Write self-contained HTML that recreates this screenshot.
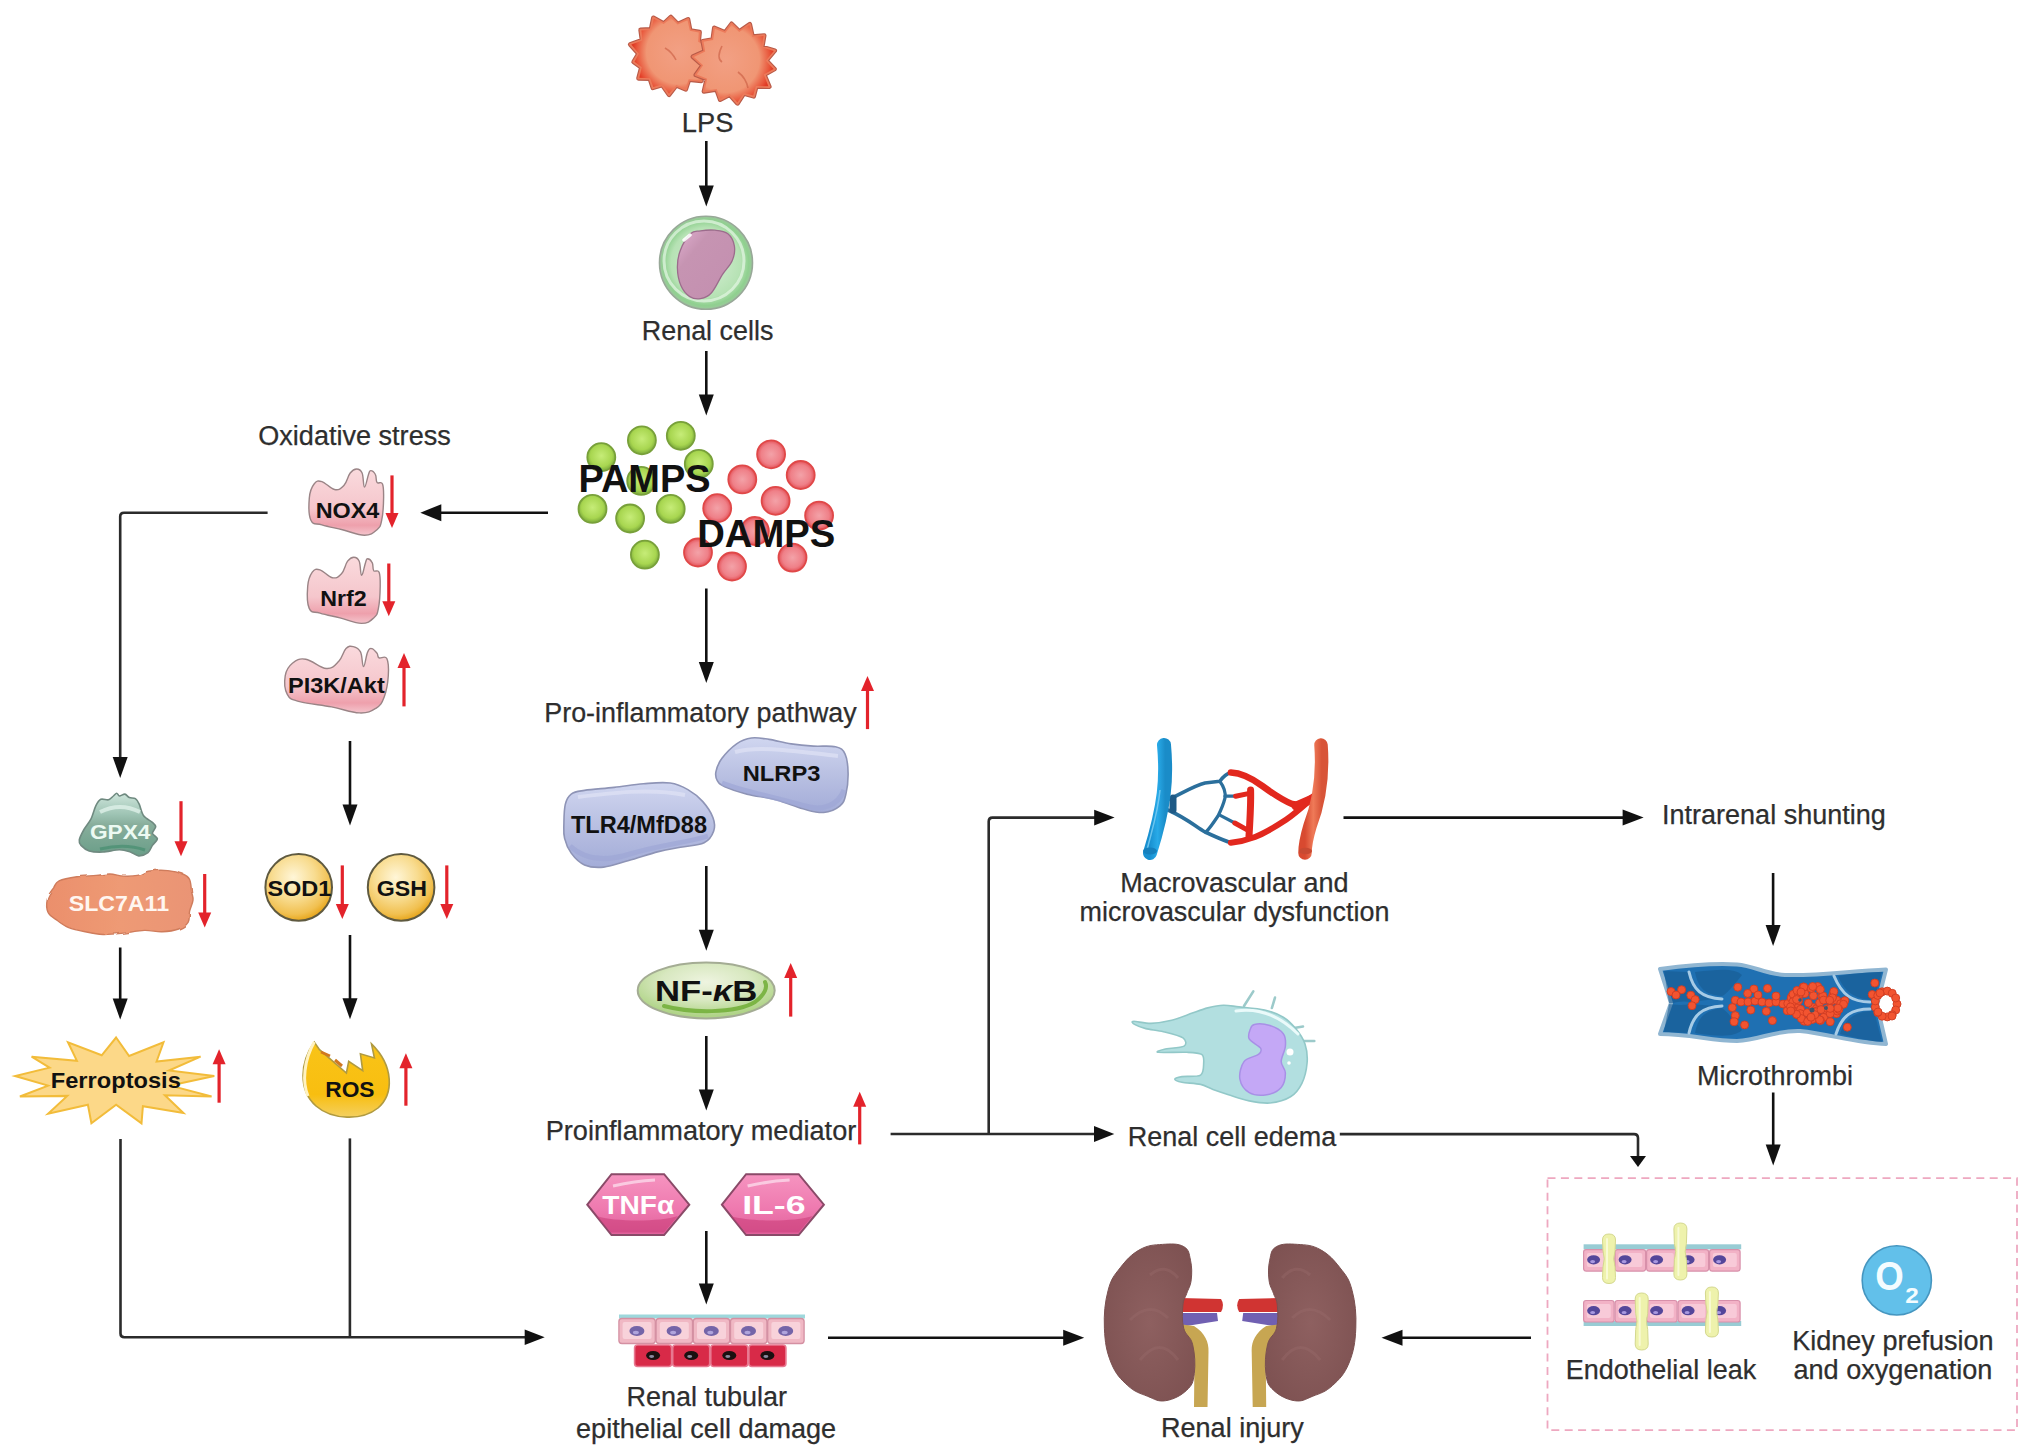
<!DOCTYPE html>
<html><head><meta charset="utf-8"><title>LPS renal injury pathway</title>
<style>html,body{margin:0;padding:0;background:#fff;width:2032px;height:1456px;overflow:hidden}svg{display:block;font-family:"Liberation Sans",sans-serif}</style>
</head><body>
<svg width="2032" height="1456" viewBox="0 0 2032 1456" font-family="Liberation Sans, sans-serif">

<defs>
 <radialGradient id="gG" cx="0.5" cy="0.45" r="0.55"><stop offset="0" stop-color="#c6ec78"/><stop offset="0.7" stop-color="#a8d650"/><stop offset="1" stop-color="#79a83a"/></radialGradient>
 <radialGradient id="gR" cx="0.5" cy="0.5" r="0.55"><stop offset="0" stop-color="#f3a2a8"/><stop offset="0.65" stop-color="#ef8088"/><stop offset="1" stop-color="#e0444a"/></radialGradient>
 <radialGradient id="gLPS" cx="0.5" cy="0.5" r="0.5"><stop offset="0" stop-color="#f2a084"/><stop offset="0.75" stop-color="#f09674"/><stop offset="0.95" stop-color="#ee7a58"/><stop offset="1" stop-color="#e85a3a"/></radialGradient>
 <radialGradient id="gCell" cx="0.5" cy="0.5" r="0.5"><stop offset="0" stop-color="#d8f0d8"/><stop offset="0.75" stop-color="#b6e2b4"/><stop offset="0.92" stop-color="#8fd08f"/><stop offset="1" stop-color="#9cc89c"/></radialGradient>
 <linearGradient id="gNuc" x1="0" y1="0" x2="1" y2="1"><stop offset="0" stop-color="#e0b0d0"/><stop offset="0.3" stop-color="#c694b2"/><stop offset="0.8" stop-color="#c490b0"/><stop offset="1" stop-color="#b0609a"/></linearGradient>
 <linearGradient id="gPink" x1="0" y1="0" x2="0" y2="1"><stop offset="0" stop-color="#fadadd"/><stop offset="0.6" stop-color="#f5c6cc"/><stop offset="0.85" stop-color="#eea0ac"/><stop offset="1" stop-color="#f4c4cc"/></linearGradient>
 <linearGradient id="gTeal" x1="0" y1="0" x2="0" y2="1"><stop offset="0" stop-color="#cfe6dc"/><stop offset="0.35" stop-color="#9cc2b2"/><stop offset="0.5" stop-color="#88ae9c"/><stop offset="1" stop-color="#6a9e88"/></linearGradient>
 <linearGradient id="gOr" x1="0" y1="0" x2="1" y2="0"><stop offset="0" stop-color="#eb8f6c"/><stop offset="0.5" stop-color="#ee9a74"/><stop offset="1" stop-color="#ea9474"/></linearGradient>
 <radialGradient id="gYel" cx="0.42" cy="0.35" r="0.65"><stop offset="0" stop-color="#fff6d8"/><stop offset="0.5" stop-color="#f8dc90"/><stop offset="0.85" stop-color="#f1c050"/><stop offset="1" stop-color="#e8a820"/></radialGradient>
 <linearGradient id="gLav" x1="0" y1="0" x2="0" y2="1"><stop offset="0" stop-color="#d0d6f0"/><stop offset="0.5" stop-color="#b9c0e2"/><stop offset="1" stop-color="#a3acd8"/></linearGradient>
 <radialGradient id="gNF" cx="0.5" cy="0.35" r="0.6"><stop offset="0" stop-color="#eef4e0"/><stop offset="0.55" stop-color="#d8e8c0"/><stop offset="1" stop-color="#b0d488"/></radialGradient>
 <linearGradient id="gHex" x1="0" y1="0" x2="0" y2="1"><stop offset="0" stop-color="#f694c0"/><stop offset="0.6" stop-color="#ee78ae"/><stop offset="1" stop-color="#e0609a"/></linearGradient>
 <radialGradient id="gKid" cx="0.5" cy="0.5" r="0.6"><stop offset="0" stop-color="#8e6060"/><stop offset="1" stop-color="#7e5252"/></radialGradient>
 <linearGradient id="gVein" x1="0" y1="0" x2="1" y2="0"><stop offset="0" stop-color="#1890d0"/><stop offset="0.5" stop-color="#28aae8"/><stop offset="1" stop-color="#1a8cc8"/></linearGradient>
 <linearGradient id="gArt" x1="0" y1="0" x2="1" y2="0"><stop offset="0" stop-color="#d84a30"/><stop offset="0.5" stop-color="#ef7a58"/><stop offset="1" stop-color="#d85438"/></linearGradient>
 <radialGradient id="gEd" cx="0.6" cy="0.45" r="0.6"><stop offset="0" stop-color="#c4e6e6"/><stop offset="1" stop-color="#a8d6d8"/></radialGradient>
 <linearGradient id="gRos" x1="0" y1="0" x2="0" y2="1"><stop offset="0" stop-color="#f9c418"/><stop offset="0.7" stop-color="#f8be10"/><stop offset="1" stop-color="#f4d060"/></linearGradient>
 <filter id="bump" x="-10%" y="-20%" width="120%" height="140%"><feTurbulence type="fractalNoise" baseFrequency="0.09" numOctaves="1" seed="4"/><feDisplacementMap in="SourceGraphic" scale="4"/></filter>
 <radialGradient id="gLPSa" cx="0.62" cy="0.45" r="0.6"><stop offset="0" stop-color="#f2a084"/><stop offset="0.7" stop-color="#f09674"/><stop offset="0.92" stop-color="#e8553a"/><stop offset="1" stop-color="#e03a24"/></radialGradient>
 <radialGradient id="gLPSb" cx="0.4" cy="0.45" r="0.6"><stop offset="0" stop-color="#f2a084"/><stop offset="0.7" stop-color="#f09674"/><stop offset="0.92" stop-color="#e8553a"/><stop offset="1" stop-color="#e03a24"/></radialGradient>
</defs>

<rect width="2032" height="1456" fill="#fff"/>
<line x1="706.3" y1="141.0" x2="706.3" y2="187.5" stroke="#111" stroke-width="2.6"/>
<path d="M698.8,185.5 L713.8,185.5 L706.3,206.5 Z" fill="#111"/>
<line x1="706.3" y1="351.0" x2="706.3" y2="396.5" stroke="#111" stroke-width="2.6"/>
<path d="M698.8,394.5 L713.8,394.5 L706.3,415.5 Z" fill="#111"/>
<line x1="706.3" y1="588.5" x2="706.3" y2="664.0" stroke="#111" stroke-width="2.6"/>
<path d="M698.8,662.0 L713.8,662.0 L706.3,683.0 Z" fill="#111"/>
<line x1="350.0" y1="741.0" x2="350.0" y2="806.5" stroke="#111" stroke-width="2.6"/>
<path d="M342.5,804.5 L357.5,804.5 L350.0,825.5 Z" fill="#111"/>
<line x1="706.3" y1="866.0" x2="706.3" y2="931.7" stroke="#111" stroke-width="2.6"/>
<path d="M698.8,929.7 L713.8,929.7 L706.3,950.7 Z" fill="#111"/>
<line x1="706.3" y1="1036.0" x2="706.3" y2="1091.5" stroke="#111" stroke-width="2.6"/>
<path d="M698.8,1089.5 L713.8,1089.5 L706.3,1110.5 Z" fill="#111"/>
<line x1="706.3" y1="1231.0" x2="706.3" y2="1285.5" stroke="#111" stroke-width="2.6"/>
<path d="M698.8,1283.5 L713.8,1283.5 L706.3,1304.5 Z" fill="#111"/>
<line x1="120.2" y1="947.5" x2="120.2" y2="1000.6" stroke="#111" stroke-width="2.6"/>
<path d="M112.7,998.6 L127.7,998.6 L120.2,1019.6 Z" fill="#111"/>
<line x1="350.0" y1="935.0" x2="350.0" y2="1000.3" stroke="#111" stroke-width="2.6"/>
<path d="M342.5,998.3 L357.5,998.3 L350.0,1019.3 Z" fill="#111"/>
<line x1="1773.1" y1="873.0" x2="1773.1" y2="927.1" stroke="#111" stroke-width="2.6"/>
<path d="M1765.6,925.1 L1780.6,925.1 L1773.1,946.1 Z" fill="#111"/>
<line x1="1773.2" y1="1092.5" x2="1773.2" y2="1146.6" stroke="#111" stroke-width="2.6"/>
<path d="M1765.7,1144.6 L1780.7,1144.6 L1773.2,1165.6 Z" fill="#111"/>
<line x1="548.0" y1="512.7" x2="439.3" y2="512.7" stroke="#111" stroke-width="2.6"/>
<path d="M441.3,504.2 L441.3,521.2 L420.3,512.7 Z" fill="#111"/>
<path d="M267.6,512.7 H124 Q120.2,512.7 120.2,516.5 V760" fill="none" stroke="#2b2b2b" stroke-width="2.6"/>
<path d="M112.7,757 L127.7,757 L120.2,778 Z" fill="#111"/>
<path d="M120.5,1139 V1333.5 Q120.5,1337.2 124.3,1337.2 H526" fill="none" stroke="#2b2b2b" stroke-width="2.6"/>
<path d="M349.9,1138.4 V1337.2" fill="none" stroke="#2b2b2b" stroke-width="2.6"/>
<path d="M524.7,1329.5 L524.7,1345 L544.7,1337.2 Z" fill="#111"/>
<line x1="828.0" y1="1337.7" x2="1065.2" y2="1337.7" stroke="#111" stroke-width="2.6"/>
<path d="M1063.2,1329.7 L1063.2,1345.7 L1084.2,1337.7 Z" fill="#111"/>
<line x1="1531.0" y1="1337.7" x2="1400.5" y2="1337.7" stroke="#111" stroke-width="2.6"/>
<path d="M1402.5,1329.7 L1402.5,1345.7 L1381.5,1337.7 Z" fill="#111"/>
<path d="M890.6,1134 H1096" fill="none" stroke="#2b2b2b" stroke-width="2.6"/>
<path d="M1094,1126 L1094,1142 L1114.3,1134 Z" fill="#111"/>
<path d="M988.7,1134 V821.5 Q988.7,817.6 992.5,817.6 H1096" fill="none" stroke="#2b2b2b" stroke-width="2.6"/>
<path d="M1094.2,809.8 L1094.2,825.5 L1114.6,817.6 Z" fill="#111"/>
<line x1="1343.5" y1="817.6" x2="1624.6" y2="817.6" stroke="#111" stroke-width="2.6"/>
<path d="M1622.6,809.6 L1622.6,825.6 L1643.6,817.6 Z" fill="#111"/>
<path d="M1339.8,1134.1 H1634 Q1638,1134.1 1638,1138 V1158" fill="none" stroke="#2b2b2b" stroke-width="2.6"/>
<path d="M1630,1156 L1646,1156 L1638,1167 Z" fill="#111"/>
<rect x="1547.5" y="1178.2" width="469.5" height="252" fill="none" stroke="#eea8c0" stroke-width="1.8" stroke-dasharray="8,5.4"/>
<line x1="392.0" y1="475.4" x2="392.0" y2="515.0" stroke="#e3232b" stroke-width="3.2"/>
<path d="M385.5,513.0 L398.5,513.0 L392.0,528.0 Z" fill="#e3232b"/>
<line x1="388.8" y1="563.5" x2="388.8" y2="603.3" stroke="#e3232b" stroke-width="3.2"/>
<path d="M382.3,601.3 L395.3,601.3 L388.8,616.3 Z" fill="#e3232b"/>
<line x1="404.0" y1="666.0" x2="404.0" y2="706.4" stroke="#e3232b" stroke-width="3.2"/>
<path d="M397.5,668.0 L410.5,668.0 L404.0,653.0 Z" fill="#e3232b"/>
<line x1="867.5" y1="689.0" x2="867.5" y2="729.1" stroke="#e3232b" stroke-width="3.2"/>
<path d="M861.0,691.0 L874.0,691.0 L867.5,676.0 Z" fill="#e3232b"/>
<line x1="790.7" y1="976.0" x2="790.7" y2="1016.6" stroke="#e3232b" stroke-width="3.2"/>
<path d="M784.2,978.0 L797.2,978.0 L790.7,963.0 Z" fill="#e3232b"/>
<line x1="859.7" y1="1104.8" x2="859.7" y2="1144.4" stroke="#e3232b" stroke-width="3.2"/>
<path d="M853.2,1106.8 L866.2,1106.8 L859.7,1091.8 Z" fill="#e3232b"/>
<line x1="181.0" y1="801.2" x2="181.0" y2="843.2" stroke="#e3232b" stroke-width="3.2"/>
<path d="M174.5,841.2 L187.5,841.2 L181.0,856.2 Z" fill="#e3232b"/>
<line x1="204.7" y1="874.0" x2="204.7" y2="914.6" stroke="#e3232b" stroke-width="3.2"/>
<path d="M198.2,912.6 L211.2,912.6 L204.7,927.6 Z" fill="#e3232b"/>
<line x1="342.3" y1="865.4" x2="342.3" y2="906.0" stroke="#e3232b" stroke-width="3.2"/>
<path d="M335.8,904.0 L348.8,904.0 L342.3,919.0 Z" fill="#e3232b"/>
<line x1="446.8" y1="865.4" x2="446.8" y2="906.0" stroke="#e3232b" stroke-width="3.2"/>
<path d="M440.3,904.0 L453.3,904.0 L446.8,919.0 Z" fill="#e3232b"/>
<line x1="219.1" y1="1062.2" x2="219.1" y2="1102.7" stroke="#e3232b" stroke-width="3.2"/>
<path d="M212.6,1064.2 L225.6,1064.2 L219.1,1049.2 Z" fill="#e3232b"/>
<line x1="405.9" y1="1066.2" x2="405.9" y2="1105.7" stroke="#e3232b" stroke-width="3.2"/>
<path d="M399.4,1068.2 L412.4,1068.2 L405.9,1053.2 Z" fill="#e3232b"/>
<path d="M708.7,46.7 L701.5,55.3 L706.0,63.6 L698.0,68.9 L701.5,80.9 L689.0,79.6 L685.8,89.4 L676.3,85.4 L669.0,94.8 L662.2,85.0 L652.9,87.9 L649.8,78.6 L638.5,78.4 L641.3,67.5 L633.6,61.9 L638.5,53.7 L630.2,44.4 L642.0,40.1 L640.6,29.9 L651.0,29.4 L653.4,17.8 L663.7,23.6 L670.9,17.0 L677.8,24.0 L688.0,19.3 L690.2,30.4 L699.6,32.1 L698.7,41.5 Z" fill="#e84a30" stroke="#b85a48" stroke-width="4.6" stroke-linejoin="round"/>
<path d="M708.7,46.7 L701.5,55.3 L706.0,63.6 L698.0,68.9 L701.5,80.9 L689.0,79.6 L685.8,89.4 L676.3,85.4 L669.0,94.8 L662.2,85.0 L652.9,87.9 L649.8,78.6 L638.5,78.4 L641.3,67.5 L633.6,61.9 L638.5,53.7 L630.2,44.4 L642.0,40.1 L640.6,29.9 L651.0,29.4 L653.4,17.8 L663.7,23.6 L670.9,17.0 L677.8,24.0 L688.0,19.3 L690.2,30.4 L699.6,32.1 L698.7,41.5 Z" fill="#ec6a48" stroke="#ec7a5a" stroke-width="2.4" stroke-linejoin="round"/>
<path d="M707.7,46.9 L701.0,55.3 L705.1,63.4 L697.6,68.6 L700.7,80.2 L688.7,79.2 L685.4,88.5 L676.2,84.9 L669.0,93.8 L662.4,84.5 L653.3,87.1 L650.1,78.3 L639.3,77.8 L641.8,67.3 L634.5,61.7 L639.0,53.7 L631.2,44.6 L642.4,40.4 L641.4,30.5 L651.3,29.8 L653.8,18.7 L663.8,24.1 L670.9,17.9 L677.6,24.5 L687.5,20.2 L689.9,30.7 L698.8,32.6 L698.2,41.7 Z" fill="url(#gLPSa)"/>
<path d="M774.5,69.1 L764.3,74.7 L769.3,86.7 L756.3,86.5 L753.7,96.3 L743.9,93.6 L737.5,103.4 L729.7,94.6 L720.1,99.6 L716.5,89.4 L703.9,91.4 L706.8,79.0 L695.8,74.9 L702.6,65.4 L692.9,56.7 L704.7,51.3 L702.7,41.3 L712.7,39.5 L714.3,27.9 L725.1,32.4 L731.6,23.8 L739.3,31.4 L749.8,24.2 L752.5,36.6 L764.2,35.5 L762.2,47.0 L774.8,50.6 L766.4,60.6 Z" fill="#e84a30" stroke="#b85a48" stroke-width="4.6" stroke-linejoin="round"/>
<path d="M774.5,69.1 L764.3,74.7 L769.3,86.7 L756.3,86.5 L753.7,96.3 L743.9,93.6 L737.5,103.4 L729.7,94.6 L720.1,99.6 L716.5,89.4 L703.9,91.4 L706.8,79.0 L695.8,74.9 L702.6,65.4 L692.9,56.7 L704.7,51.3 L702.7,41.3 L712.7,39.5 L714.3,27.9 L725.1,32.4 L731.6,23.8 L739.3,31.4 L749.8,24.2 L752.5,36.6 L764.2,35.5 L762.2,47.0 L774.8,50.6 L766.4,60.6 Z" fill="#ec6a48" stroke="#ec7a5a" stroke-width="2.4" stroke-linejoin="round"/>
<path d="M773.6,68.9 L763.8,74.5 L768.4,86.2 L755.9,86.1 L753.2,95.5 L743.8,93.1 L737.4,102.4 L729.8,94.1 L720.5,98.7 L716.7,89.0 L704.7,90.7 L707.2,78.7 L696.8,74.6 L703.1,65.3 L693.9,56.9 L705.2,51.5 L703.5,41.8 L713.1,39.9 L714.8,28.8 L725.2,32.9 L731.7,24.8 L739.2,31.9 L749.4,25.1 L752.3,37.0 L763.5,36.1 L761.8,47.3 L773.8,50.9 L765.9,60.7 Z" fill="url(#gLPSb)"/>
<path d="M665,48 Q672,52 676,60 M722,46 Q716,58 722,62 M738,72 Q746,78 748,88" fill="none" stroke="#c85a40" stroke-width="1.6" opacity="0.6"/>
<circle cx="706" cy="262.7" r="46.5" fill="url(#gCell)" stroke="#98a898" stroke-width="1.6"/>
<circle cx="704" cy="261" r="40" fill="none" stroke="#e6f6e6" stroke-width="3" opacity="0.7"/>
<path d="M690.4,233.8 C694.1,230.2 696.0,231.6 700.5,230.9 C705.0,230.2 709.9,229.7 714.9,230.2 C719.9,230.7 724.3,230.9 727.9,233.8 C731.5,236.7 733.6,241.2 734.4,246.1 C735.2,251.0 734.5,255.2 732.3,260.5 C730.1,265.8 726.1,268.9 722.2,274.9 C718.4,280.9 715.3,288.6 711.3,293.0 C707.3,297.4 704.5,298.0 700.5,298.7 C696.5,299.4 693.3,299.0 689.7,296.6 C686.1,294.2 683.3,291.1 681.0,285.8 C678.7,280.5 677.5,274.2 677.4,267.7 C677.3,261.2 677.9,256.6 680.3,250.4 C682.7,244.2 686.7,237.4 690.4,233.8Z" fill="url(#gNuc)" stroke="#9c6c8c" stroke-width="1.3"/>
<path d="M684,240 L690,235" stroke="#fff" stroke-width="3.5" stroke-linecap="round" opacity="0.9"/>
<circle cx="641.9" cy="440.3" r="14" fill="url(#gG)" stroke="#78a03a" stroke-width="1.8"/>
<circle cx="680.8" cy="435.8" r="14" fill="url(#gG)" stroke="#78a03a" stroke-width="1.8"/>
<circle cx="601.3" cy="457.2" r="14" fill="url(#gG)" stroke="#78a03a" stroke-width="1.8"/>
<circle cx="698.8" cy="463.9" r="14" fill="url(#gG)" stroke="#78a03a" stroke-width="1.8"/>
<circle cx="641.2" cy="480.9" r="14" fill="url(#gG)" stroke="#78a03a" stroke-width="1.8"/>
<circle cx="592.5" cy="508.9" r="14" fill="url(#gG)" stroke="#78a03a" stroke-width="1.8"/>
<circle cx="630.1" cy="518.5" r="14" fill="url(#gG)" stroke="#78a03a" stroke-width="1.8"/>
<circle cx="670.7" cy="508.9" r="14" fill="url(#gG)" stroke="#78a03a" stroke-width="1.8"/>
<circle cx="644.9" cy="554.7" r="14" fill="url(#gG)" stroke="#78a03a" stroke-width="1.8"/>
<circle cx="771.1" cy="454.3" r="14" fill="url(#gR)" stroke="#e04848" stroke-width="1.8"/>
<circle cx="742.3" cy="479.4" r="14" fill="url(#gR)" stroke="#e04848" stroke-width="1.8"/>
<circle cx="800.7" cy="475.0" r="14" fill="url(#gR)" stroke="#e04848" stroke-width="1.8"/>
<circle cx="775.6" cy="500.8" r="14" fill="url(#gR)" stroke="#e04848" stroke-width="1.8"/>
<circle cx="717.2" cy="508.2" r="14" fill="url(#gR)" stroke="#e04848" stroke-width="1.8"/>
<circle cx="819.1" cy="515.6" r="14" fill="url(#gR)" stroke="#e04848" stroke-width="1.8"/>
<circle cx="754.9" cy="531.0" r="14" fill="url(#gR)" stroke="#e04848" stroke-width="1.8"/>
<circle cx="698.0" cy="552.5" r="14" fill="url(#gR)" stroke="#e04848" stroke-width="1.8"/>
<circle cx="732.0" cy="566.5" r="14" fill="url(#gR)" stroke="#e04848" stroke-width="1.8"/>
<circle cx="792.5" cy="557.6" r="14" fill="url(#gR)" stroke="#e04848" stroke-width="1.8"/>
<path d="M309.3,498.1 C309.9,490.9 311.5,487.3 314.1,484.0 C316.6,480.7 317.8,480.5 321.9,481.6 C325.9,482.7 330.1,488.7 334.5,489.5 C338.9,490.3 340.8,488.9 343.9,485.6 C347.1,482.2 347.7,476.3 350.2,473.0 C352.8,469.7 354.2,469.0 356.6,469.0 C358.9,469.0 360.5,469.3 362.1,473.0 C363.6,476.6 363.2,486.8 364.5,487.1 C365.8,487.4 367.3,477.8 368.5,474.5 C369.8,471.2 369.3,470.6 370.7,470.6 C372.1,470.6 374.2,472.1 375.4,474.5 C376.7,476.9 375.6,480.5 377.0,482.4 C378.4,484.3 381.2,480.8 382.5,484.0 C383.8,487.1 383.7,490.9 383.6,498.1 C383.5,505.4 383.1,513.9 381.7,520.2 C380.4,526.6 380.4,526.7 377.0,529.7 C373.5,532.7 371.4,535.2 364.4,535.2 C357.5,535.2 350.9,531.8 342.4,529.7 C333.8,527.7 328.2,526.8 321.9,524.9 C315.6,523.0 313.4,525.6 310.9,520.2 C308.3,514.9 308.7,505.4 309.3,498.1Z" fill="url(#gPink)" stroke="#9a8486" stroke-width="1.4"/>
<path d="M307.7,586.3 C308.3,579.1 309.9,575.5 312.3,572.2 C314.8,568.9 316.0,568.7 320.0,569.8 C323.9,570.9 328.0,576.9 332.3,577.7 C336.6,578.5 338.4,577.1 341.5,573.8 C344.6,570.4 345.2,564.5 347.6,561.2 C350.1,557.9 351.5,557.2 353.8,557.2 C356.1,557.2 357.6,557.5 359.2,561.2 C360.7,564.8 360.3,575.0 361.6,575.3 C362.8,575.6 364.3,566.0 365.5,562.7 C366.7,559.4 366.2,558.8 367.6,558.8 C368.9,558.8 371.0,560.3 372.2,562.7 C373.5,565.1 372.4,568.7 373.7,570.6 C375.1,572.5 377.8,569.0 379.1,572.2 C380.4,575.3 380.3,579.1 380.2,586.3 C380.1,593.6 379.7,602.1 378.4,608.4 C377.1,614.8 377.1,614.9 373.7,617.9 C370.4,620.9 368.3,623.4 361.5,623.4 C354.7,623.4 348.3,620.0 340.0,617.9 C331.7,615.9 326.1,615.0 320.0,613.1 C313.8,611.2 311.7,613.8 309.2,608.4 C306.8,603.1 307.1,593.6 307.7,586.3Z" fill="url(#gPink)" stroke="#9a8486" stroke-width="1.4"/>
<path d="M285.2,675.8 C286.2,669.5 288.3,666.5 292.4,663.2 C296.5,659.9 299.0,658.1 305.8,659.2 C312.6,660.3 319.8,668.1 326.4,668.5 C333.0,668.9 334.9,665.2 338.8,661.2 C342.7,657.2 343.1,651.5 346.0,648.6 C348.9,645.7 350.4,645.9 353.2,646.6 C356.1,647.3 358.4,647.9 360.5,651.9 C362.5,655.9 362.1,666.5 363.6,666.5 C365.0,666.5 366.0,655.5 367.7,651.9 C369.3,648.3 369.9,648.3 371.8,648.6 C373.7,648.9 375.5,651.4 377.0,653.2 C378.4,655.1 377.1,656.8 379.0,657.9 C381.0,658.9 384.9,655.0 386.8,658.5 C388.6,662.1 388.8,668.1 388.3,675.8 C387.8,683.5 386.7,690.5 384.2,697.0 C381.7,703.5 380.9,705.1 375.9,708.3 C371.0,711.4 368.3,713.2 359.4,712.9 C350.6,712.6 343.6,709.2 331.6,706.9 C319.6,704.7 308.5,704.1 299.6,701.6 C290.8,699.1 290.1,699.5 287.3,694.3 C284.4,689.2 284.2,682.0 285.2,675.8Z" fill="url(#gPink)" stroke="#9a8486" stroke-width="1.4"/>
<path d="M79.3,840.0 C79.7,837.7 82.0,833.1 83.7,830.0 C85.4,826.9 89.1,822.7 90.9,819.1 C92.7,815.5 94.3,808.9 95.8,805.9 C97.3,802.9 98.9,800.2 100.8,799.3 C102.7,798.4 106.6,800.3 108.5,799.8 C110.4,799.3 112.2,797.0 113.4,796.0 C114.6,795.0 115.8,793.2 116.7,793.2 C117.6,793.2 118.3,795.9 119.5,796.0 C120.7,796.1 123.4,793.9 124.9,794.1 C126.4,794.3 127.7,796.9 129.3,797.6 C130.9,798.3 133.9,797.7 135.4,798.7 C136.9,799.7 138.0,801.6 139.2,804.2 C140.4,806.8 141.6,813.1 143.6,815.8 C145.6,818.5 150.6,820.8 152.4,822.4 C154.2,824.0 155.7,825.1 155.7,826.8 C155.7,828.4 152.1,831.6 152.4,833.4 C152.7,835.2 157.4,837.0 157.4,838.8 C157.4,840.6 153.8,843.3 152.4,845.4 C151.0,847.5 150.1,851.0 148.0,852.6 C145.9,854.2 141.3,856.0 138.7,855.9 C136.1,855.8 133.3,852.9 130.4,852.0 C127.5,851.1 123.6,849.8 119.5,849.8 C115.4,849.8 107.5,851.8 103.0,852.0 C98.5,852.2 92.5,851.9 89.2,850.9 C85.9,849.9 82.5,847.0 81.0,845.4 C79.5,843.8 78.9,842.3 79.3,840.0Z" fill="url(#gTeal)" stroke="#6f8a80" stroke-width="1.6"/>
<path d="M100,812 Q120,802 140,812" fill="none" stroke="#dff0e8" stroke-width="4" opacity="0.8"/>
<path d="M100,849 Q125,843 145,850" fill="none" stroke="#3f8a6a" stroke-width="3" opacity="0.6"/>
<path d="M47.4,898.8 C48.3,894.6 51.6,890.7 53.6,887.8 C55.5,884.8 55.2,882.7 59.1,880.9 C63.0,879.1 70.8,877.7 76.9,876.8 C83.1,875.9 90.7,875.9 96.2,875.4 C101.7,874.9 105.3,873.9 109.9,874.0 C114.5,874.1 119.1,875.9 123.6,876.1 C128.2,876.3 133.3,876.2 137.4,875.4 C141.5,874.6 143.3,872.1 148.4,871.3 C153.4,870.5 161.9,870.1 167.6,870.6 C173.3,871.1 179.1,872.5 182.7,874.0 C186.4,875.5 188.1,876.5 189.6,879.5 C191.1,882.5 191.1,888.5 191.6,891.9 C192.2,895.3 193.4,896.9 193.0,900.1 C192.7,903.3 190.4,907.5 189.6,911.1 C188.8,914.8 190.0,919.1 188.2,922.1 C186.4,925.1 182.9,927.4 178.6,929.0 C174.2,930.6 167.8,931.5 162.1,931.7 C156.4,932.0 150.7,930.1 144.3,930.4 C137.8,930.6 130.5,932.4 123.6,933.1 C116.8,933.8 109.4,934.7 103.0,934.5 C96.6,934.2 90.9,932.9 85.2,931.7 C79.5,930.6 73.3,929.4 68.7,927.6 C64.1,925.8 61.1,923.3 57.7,920.7 C54.3,918.2 49.8,916.2 48.1,912.5 C46.4,908.8 46.5,902.9 47.4,898.8Z" fill="url(#gOr)" stroke="#cf7c5c" stroke-width="1.4" filter="url(#bump)"/>
<circle cx="298.7" cy="887.4" r="33.3" fill="url(#gYel)" stroke="#5f5a40" stroke-width="2"/>
<circle cx="401.1" cy="887.4" r="33.3" fill="url(#gYel)" stroke="#5f5a40" stroke-width="2"/>
<path d="M116.1,1037.5 L129.1,1056.0 L163.5,1042.3 L156.6,1061.5 L200.6,1056.7 L169.0,1070.5 L214.3,1076.0 L170.4,1085.6 L211.6,1096.5 L164.9,1095.2 L183.4,1113.0 L142.9,1106.2 L141.5,1123.3 L116.1,1104.8 L91.4,1123.3 L87.9,1104.8 L48.1,1113.7 L67.3,1095.9 L19.9,1096.5 L48.1,1085.6 L15.1,1076.0 L49.5,1067.7 L31.6,1056.7 L76.9,1060.8 L68.0,1042.3 L101.7,1055.3 Z" fill="#fcd888" stroke="#f2bc3a" stroke-width="2" stroke-linejoin="miter"/>
<path d="M314.3,1042.1 C300,1062 298,1090 316,1106 C332,1120 362,1121 378,1108 C394,1094 394,1066 371.5,1043.9 L374.4,1057.9 L360.4,1053.8 L362.7,1070.7 L348.7,1061.4 L346.4,1073 L319.5,1049.7 Z" fill="url(#gRos)" stroke="#b09a40" stroke-width="1.6"/>
<path d="M314.3,1042.1 C304,1060 302,1082 308,1096" fill="none" stroke="#fff2c0" stroke-width="3"/>
<path d="M321,1052 L330,1056 M335,1060 L342,1066" stroke="#d07820" stroke-width="3"/>
<path d="M715.9,771.9 C716.7,767.8 718.0,763.7 721.8,758.6 C725.6,753.5 731.2,747.7 736.6,743.9 C742.0,740.1 745.4,738.8 751.4,738.0 C757.4,737.2 761.8,738.3 769.1,739.4 C776.4,740.5 783.1,742.7 791.2,743.9 C799.3,745.1 805.3,745.6 813.4,746.1 C821.5,746.6 829.7,745.3 835.5,746.8 C841.3,748.3 842.8,749.3 845.1,754.2 C847.4,759.1 848.0,766.1 848.1,773.4 C848.2,780.7 847.4,788.1 845.9,794.1 C844.4,800.1 844.1,802.5 840.0,805.9 C835.9,809.3 830.5,812.0 823.7,812.5 C816.9,813.0 811.7,811.1 803.0,808.8 C794.3,806.5 786.8,802.7 776.5,800.0 C766.2,797.3 756.4,796.5 746.9,794.1 C737.4,791.7 730.2,789.1 724.8,786.7 C719.4,784.3 719.0,783.5 717.4,780.8 C715.8,778.1 715.1,776.0 715.9,771.9Z" fill="url(#gLav)" stroke="#8e94b6" stroke-width="1.6"/>
<path d="M722,783 C745,792 775,797 805,806 C822,811 838,806 844,790" fill="none" stroke="#9ea6d6" stroke-width="5" opacity="0.7"/>
<path d="M735,752 C760,745 800,752 838,756" fill="none" stroke="#dfe3f5" stroke-width="4" opacity="0.7"/>
<path d="M563.9,823.6 C564.0,817.4 564.0,809.8 565.3,804.4 C566.6,799.0 567.7,796.7 571.2,794.1 C574.7,791.5 576.6,791.6 584.5,790.4 C592.4,789.2 603.3,788.6 614.1,787.4 C624.9,786.2 633.3,784.5 643.6,783.7 C653.9,782.9 662.1,781.9 670.2,783.0 C678.3,784.1 682.0,786.2 687.9,789.6 C693.8,793.0 698.0,796.2 702.6,801.4 C707.2,806.6 711.0,812.3 713.0,817.7 C715.0,823.1 715.3,826.4 713.7,831.0 C712.1,835.6 710.2,839.8 704.1,842.8 C698.0,845.8 688.9,845.6 680.5,847.2 C672.1,848.8 667.9,849.2 658.4,851.6 C648.9,854.0 638.8,857.7 628.8,860.5 C618.8,863.3 611.8,866.3 603.7,867.1 C595.6,867.9 590.5,867.5 584.5,864.9 C578.5,862.3 574.8,858.0 571.2,853.1 C567.6,848.2 565.9,843.8 564.6,838.4 C563.3,833.0 563.8,829.8 563.9,823.6Z" fill="url(#gLav)" stroke="#8e94b6" stroke-width="1.6"/>
<path d="M570,846 C585,860 605,862 630,854 C660,845 690,842 708,836" fill="none" stroke="#9ea6d6" stroke-width="5" opacity="0.7"/>
<path d="M578,797 C610,793 650,788 685,795" fill="none" stroke="#dfe3f5" stroke-width="4" opacity="0.7"/>
<ellipse cx="706.2" cy="990.4" rx="68.5" ry="28" fill="url(#gNF)" stroke="#a4ac94" stroke-width="2"/>
<path d="M664,1006 C690,1013 735,1014 755,1002 C764,995 768,988 765,982" fill="none" stroke="#74b03c" stroke-width="4" stroke-linecap="round" opacity="0.9"/>
<path d="M587.3,1204.7 L611.5,1174.2 L664.1,1174.2 L689.3,1204.7 L664.1,1235.1 L611.5,1235.1 Z" fill="url(#gHex)" stroke="#8a4a68" stroke-width="2"/>
<path d="M596.0,1216 L611.0,1232.5 L664.0,1232.5 L678.0,1216 C660.0,1222 615.0,1222 596.0,1216 Z" fill="#c83a76" opacity="0.55"/>
<path d="M613.0,1186 Q635.0,1181 655.0,1180" fill="none" stroke="#fbd0e4" stroke-width="3" opacity="0.9"/>
<path d="M721.9,1204.7 L746.1,1174.2 L798.7,1174.2 L823.9,1204.7 L798.7,1235.1 L746.1,1235.1 Z" fill="url(#gHex)" stroke="#8a4a68" stroke-width="2"/>
<path d="M730.6,1216 L745.6,1232.5 L798.6,1232.5 L812.6,1216 C794.6,1222 749.6,1222 730.6,1216 Z" fill="#c83a76" opacity="0.55"/>
<path d="M747.6,1186 Q769.6,1181 789.6,1180" fill="none" stroke="#fbd0e4" stroke-width="3" opacity="0.9"/>
<rect x="619" y="1314.5" width="186" height="4" fill="#9ed8dc"/>
<rect x="618.9" y="1318.5" width="36.4" height="25" rx="3" fill="#f0b8c4" stroke="#d490a2" stroke-width="1.3"/>
<rect x="622.6" y="1322" width="29" height="17" rx="2" fill="#f8d2da"/>
<ellipse cx="636.9" cy="1331" rx="7.5" ry="5" fill="#7464a8"/>
<ellipse cx="635.9" cy="1332.5" rx="3" ry="1.8" fill="#b0a4dc"/>
<rect x="656.1" y="1318.5" width="36.4" height="25" rx="3" fill="#f0b8c4" stroke="#d490a2" stroke-width="1.3"/>
<rect x="659.8" y="1322" width="29" height="17" rx="2" fill="#f8d2da"/>
<ellipse cx="674.1" cy="1331" rx="7.5" ry="5" fill="#7464a8"/>
<ellipse cx="673.1" cy="1332.5" rx="3" ry="1.8" fill="#b0a4dc"/>
<rect x="693.3" y="1318.5" width="36.4" height="25" rx="3" fill="#f0b8c4" stroke="#d490a2" stroke-width="1.3"/>
<rect x="697.0" y="1322" width="29" height="17" rx="2" fill="#f8d2da"/>
<ellipse cx="711.3" cy="1331" rx="7.5" ry="5" fill="#7464a8"/>
<ellipse cx="710.3" cy="1332.5" rx="3" ry="1.8" fill="#b0a4dc"/>
<rect x="730.5" y="1318.5" width="36.4" height="25" rx="3" fill="#f0b8c4" stroke="#d490a2" stroke-width="1.3"/>
<rect x="734.2" y="1322" width="29" height="17" rx="2" fill="#f8d2da"/>
<ellipse cx="748.5" cy="1331" rx="7.5" ry="5" fill="#7464a8"/>
<ellipse cx="747.5" cy="1332.5" rx="3" ry="1.8" fill="#b0a4dc"/>
<rect x="767.7" y="1318.5" width="36.4" height="25" rx="3" fill="#f0b8c4" stroke="#d490a2" stroke-width="1.3"/>
<rect x="771.4" y="1322" width="29" height="17" rx="2" fill="#f8d2da"/>
<ellipse cx="785.7" cy="1331" rx="7.5" ry="5" fill="#7464a8"/>
<ellipse cx="784.7" cy="1332.5" rx="3" ry="1.8" fill="#b0a4dc"/>
<rect x="634.6" y="1345" width="37" height="21.5" rx="3" fill="#d82a48" stroke="#e87890" stroke-width="1.6"/>
<ellipse cx="653.1" cy="1355.5" rx="7" ry="4.5" fill="#1a1010"/>
<ellipse cx="651.6" cy="1356.5" rx="2.5" ry="1.4" fill="#8a8aa0"/>
<rect x="672.7" y="1345" width="37" height="21.5" rx="3" fill="#d82a48" stroke="#e87890" stroke-width="1.6"/>
<ellipse cx="691.2" cy="1355.5" rx="7" ry="4.5" fill="#1a1010"/>
<ellipse cx="689.7" cy="1356.5" rx="2.5" ry="1.4" fill="#8a8aa0"/>
<rect x="710.8" y="1345" width="37" height="21.5" rx="3" fill="#d82a48" stroke="#e87890" stroke-width="1.6"/>
<ellipse cx="729.3" cy="1355.5" rx="7" ry="4.5" fill="#1a1010"/>
<ellipse cx="727.8" cy="1356.5" rx="2.5" ry="1.4" fill="#8a8aa0"/>
<rect x="748.9" y="1345" width="37" height="21.5" rx="3" fill="#d82a48" stroke="#e87890" stroke-width="1.6"/>
<ellipse cx="767.4" cy="1355.5" rx="7" ry="4.5" fill="#1a1010"/>
<ellipse cx="765.9" cy="1356.5" rx="2.5" ry="1.4" fill="#8a8aa0"/>
<g fill="none" stroke-linecap="round" stroke-linejoin="round"><path d="M1170,799 C1186,791 1196,785 1205,783 L1219.8,781.3 C1223,777 1226,774 1230.9,772.6" stroke="#2b6f9c" stroke-width="3.6"/><path d="M1168,810 C1188,819 1196,827 1205,832 C1214,836 1222,840 1230.9,842.7" stroke="#2b6f9c" stroke-width="3.6"/><path d="M1219.8,781.3 C1224,787 1226,792 1225,798 C1223,806 1220,812 1218,816 C1214,822 1210,828 1206,832" stroke="#2b6f9c" stroke-width="3.2"/><path d="M1225,796.2 L1236,796.2 M1219.8,815.1 L1234.8,823" stroke="#2b6f9c" stroke-width="3.2"/><path d="M1173,798 L1173,810" stroke="#1e5a86" stroke-width="7"/><path d="M1230.9,772.6 C1240,773 1250,777 1262.4,786 C1272,793 1282,800 1292,804 C1300,806 1306,802 1314,796" stroke="#e2281e" stroke-width="6.5"/><path d="M1230.9,842.7 C1238,842 1247,840 1255,837 C1265,833 1275,827 1286,819.8 C1293,815 1300,809 1308,802" stroke="#e2281e" stroke-width="6"/><path d="M1250.6,789.9 C1251,805 1250,820 1249,836" stroke="#e2281e" stroke-width="7"/><path d="M1235.6,796.2 L1250.6,793.1 M1234.8,823 L1249,830.9" stroke="#e2281e" stroke-width="5"/><path d="M1296,806 L1312,799" stroke="#e2281e" stroke-width="9"/></g>
<path d="M1164,745 C1167,778 1165,805 1150,853" fill="none" stroke="url(#gVein)" stroke-width="14" stroke-linecap="round"/>
<path d="M1160,790 C1158,812 1152,830 1147,850" fill="none" stroke="#7fd0f4" stroke-width="1.5" opacity="0.8"/>
<ellipse cx="1150" cy="851" rx="7" ry="3.5" fill="#1580bd"/>
<path d="M1321,745 C1323,772 1320,800 1310,826 C1307,836 1305,845 1305,853" fill="none" stroke="url(#gArt)" stroke-width="13.5" stroke-linecap="round"/>
<ellipse cx="1305.5" cy="851" rx="6.5" ry="3.2" fill="#c84a32"/>
<path d="M1253.3,991.4 L1244.0,1006.0" stroke="#9ccaca" stroke-width="2.6" stroke-linecap="round"/>
<path d="M1275.0,997.6 L1271.9,1008.0" stroke="#9ccaca" stroke-width="2.6" stroke-linecap="round"/>
<path d="M1303.0,1026.5 L1294.0,1028.0" stroke="#9ccaca" stroke-width="2.6" stroke-linecap="round"/>
<path d="M1314.3,1041.0 L1304.0,1041.0" stroke="#9ccaca" stroke-width="2.6" stroke-linecap="round"/>
<path d="M1133.4,1021.3 C1135.9,1021.1 1145.3,1023.5 1151.0,1023.4 C1156.7,1023.2 1165.5,1021.8 1171.7,1020.3 C1177.9,1018.8 1186.9,1015.0 1192.3,1013.1 C1197.7,1011.2 1203.1,1009.1 1207.8,1007.9 C1212.5,1006.7 1218.6,1005.4 1223.3,1005.3 C1228.0,1005.1 1232.7,1006.2 1238.9,1006.9 C1245.1,1007.6 1258.0,1008.5 1264.7,1010.0 C1271.4,1011.5 1278.6,1014.4 1283.3,1017.2 C1288.0,1020.0 1292.4,1024.6 1295.7,1028.6 C1299.0,1032.6 1303.3,1039.0 1305.0,1044.1 C1306.7,1049.2 1307.6,1056.8 1307.1,1062.7 C1306.6,1068.6 1304.4,1078.2 1301.9,1083.3 C1299.4,1088.4 1295.3,1093.8 1290.5,1096.8 C1285.7,1099.8 1276.1,1102.4 1269.9,1103.0 C1263.7,1103.6 1255.4,1102.1 1249.2,1100.9 C1243.0,1099.7 1233.9,1096.4 1228.5,1094.7 C1223.1,1093.0 1217.2,1091.0 1213.0,1089.5 C1208.8,1088.0 1205.2,1085.5 1200.6,1084.4 C1195.9,1083.3 1185.9,1083.1 1182.0,1082.3 C1178.1,1081.5 1174.8,1080.1 1174.8,1079.2 C1174.8,1078.3 1178.1,1077.2 1182.0,1076.6 C1185.9,1076.0 1197.3,1077.2 1200.6,1075.1 C1203.9,1073.0 1203.5,1065.8 1203.7,1062.7 C1203.9,1059.6 1204.1,1056.0 1201.6,1054.4 C1199.1,1052.8 1193.7,1052.6 1187.2,1052.3 C1180.7,1052.0 1161.6,1052.8 1158.2,1052.3 C1154.8,1051.8 1160.5,1050.1 1164.4,1049.2 C1168.3,1048.3 1181.3,1047.8 1184.1,1046.1 C1186.9,1044.4 1186.1,1040.1 1183.0,1037.9 C1179.9,1035.7 1169.0,1033.1 1163.4,1031.7 C1157.8,1030.3 1150.1,1029.7 1145.8,1028.6 C1141.5,1027.5 1136.4,1025.5 1134.5,1024.4 C1132.6,1023.3 1130.9,1021.4 1133.4,1021.3Z" fill="#b2dfe0" stroke="#92c8c8" stroke-width="1.6"/>
<path d="M1236,1011 Q1270,1006 1298,1034" fill="none" stroke="#eafafa" stroke-width="3" stroke-linecap="round"/>
<path d="M1254.4,1024.4 C1257.7,1023.7 1265.1,1024.0 1269.9,1025.5 C1274.7,1027.0 1280.7,1030.3 1283.3,1033.7 C1285.9,1037.1 1285.8,1041.4 1285.4,1046.1 C1285.1,1050.8 1281.2,1057.1 1281.2,1061.6 C1281.2,1066.1 1285.4,1068.7 1285.4,1073.0 C1285.4,1077.3 1284.3,1083.9 1281.2,1087.5 C1278.1,1091.1 1272.1,1093.9 1266.8,1094.7 C1261.5,1095.5 1253.7,1095.2 1249.2,1092.6 C1244.7,1090.0 1240.8,1084.4 1239.9,1079.2 C1239.0,1074.0 1240.9,1065.7 1244.0,1061.6 C1247.1,1057.5 1255.7,1056.6 1258.5,1054.4 C1261.3,1052.2 1262.1,1050.8 1260.6,1048.2 C1259.0,1045.6 1250.9,1042.0 1249.2,1038.9 C1247.5,1035.8 1249.3,1032.0 1250.2,1029.6 C1251.1,1027.2 1251.1,1025.1 1254.4,1024.4Z" fill="#c4a8f6" stroke="#a890e6" stroke-width="1.5"/>
<circle cx="1290" cy="1052" r="3.5" fill="#fff"/><circle cx="1289" cy="1063" r="1.8" fill="#fff"/>
<path d="M1660,969 C1690,965 1715,963 1737,964.5 C1755,966 1765,974 1785,975 C1820,976 1850,971 1886,969.5 L1877,1005 L1886,1044 C1855,1043 1830,1034 1800,1031 C1775,1030 1760,1040 1737,1041 C1712,1041 1690,1034 1660,1034 L1671,1003 Z" fill="#1f70b2" stroke="#90b6d2" stroke-width="4" stroke-linejoin="round"/>
<g fill="#17598f" opacity="0.55"><path d="M1664,971 L1688,972 C1692,988 1698,996 1716,999 L1690,1002 C1680,1000 1673,1004 1669,1003 Z"/><path d="M1664,1032 L1688,1033 C1692,1017 1698,1009 1716,1006 L1690,1004 C1680,1006 1673,1004 1669,1004 Z"/><path d="M1695,972 C1720,969 1735,968 1742,975 C1730,990 1725,995 1722,996 C1705,995 1698,988 1695,972 Z"/><path d="M1695,1033 C1720,1037 1735,1037 1742,1030 C1730,1015 1725,1010 1722,1008 C1705,1010 1698,1017 1695,1033 Z"/><path d="M1838,976 C1855,973 1870,972 1882,972 L1874,1000 C1858,1000 1845,994 1838,976 Z"/><path d="M1840,1034 C1855,1038 1870,1041 1882,1042 L1874,1011 C1858,1011 1846,1016 1840,1034 Z"/></g>
<path d="M1689,972 C1693,990 1702,998 1722,999 M1689,1033 C1693,1015 1702,1007 1722,1006 M1834,976 C1842,995 1852,1002 1870,1002 M1836,1034 C1842,1015 1852,1009 1870,1009" fill="none" stroke="#a6cbe6" stroke-width="3" stroke-linecap="round"/>
<g fill="#f25430" stroke="#cf3c22" stroke-width="0.9"><circle cx="1671.0" cy="991.5" r="4"/><circle cx="1681.6" cy="989.7" r="4"/><circle cx="1690.8" cy="995.2" r="4"/><circle cx="1695.2" cy="999.6" r="4"/><circle cx="1692.0" cy="1005.7" r="4"/><circle cx="1676.0" cy="995.0" r="4"/><circle cx="1737.8" cy="987.2" r="4"/><circle cx="1753.9" cy="989.0" r="4"/><circle cx="1767.5" cy="988.4" r="4"/><circle cx="1747.7" cy="993.4" r="4"/><circle cx="1735.3" cy="1000.2" r="4"/><circle cx="1732.3" cy="1007.6" r="4"/><circle cx="1750.8" cy="1010.0" r="4"/><circle cx="1766.3" cy="1011.3" r="4"/><circle cx="1735.3" cy="1015.6" r="4"/><circle cx="1734.1" cy="1021.8" r="4"/><circle cx="1744.6" cy="1024.9" r="4"/><circle cx="1772.4" cy="1020.6" r="4"/><circle cx="1741.0" cy="1002.0" r="4"/><circle cx="1748.0" cy="1002.0" r="4"/><circle cx="1755.0" cy="1001.0" r="4"/><circle cx="1762.0" cy="1002.0" r="4"/><circle cx="1769.0" cy="1003.0" r="4"/><circle cx="1776.0" cy="1002.0" r="4"/><circle cx="1783.0" cy="1004.0" r="4"/><circle cx="1758.0" cy="995.0" r="4"/><circle cx="1776.0" cy="996.0" r="4"/><circle cx="1847.3" cy="1027.2" r="4"/><circle cx="1874.8" cy="983.0" r="4"/><circle cx="1872.2" cy="994.5" r="4"/><circle cx="1813.1" cy="1007.5" r="4"/><circle cx="1841.5" cy="1003.6" r="4"/><circle cx="1816.5" cy="1008.7" r="4"/><circle cx="1797.1" cy="1005.5" r="4"/><circle cx="1823.8" cy="1017.3" r="4"/><circle cx="1791.6" cy="996.7" r="4"/><circle cx="1825.2" cy="1009.9" r="4"/><circle cx="1817.7" cy="986.5" r="4"/><circle cx="1797.4" cy="994.2" r="4"/><circle cx="1787.8" cy="1003.5" r="4"/><circle cx="1812.4" cy="1019.4" r="4"/><circle cx="1817.1" cy="1010.9" r="4"/><circle cx="1816.0" cy="1011.8" r="4"/><circle cx="1813.4" cy="995.7" r="4"/><circle cx="1836.4" cy="1013.7" r="4"/><circle cx="1804.9" cy="993.6" r="4"/><circle cx="1803.3" cy="986.9" r="4"/><circle cx="1832.0" cy="1000.8" r="4"/><circle cx="1836.8" cy="1000.2" r="4"/><circle cx="1840.6" cy="1003.7" r="4"/><circle cx="1844.8" cy="1000.7" r="4"/><circle cx="1790.4" cy="1010.4" r="4"/><circle cx="1832.7" cy="995.3" r="4"/><circle cx="1791.2" cy="998.0" r="4"/><circle cx="1793.1" cy="994.3" r="4"/><circle cx="1833.8" cy="991.5" r="4"/><circle cx="1819.6" cy="1002.8" r="4"/><circle cx="1797.4" cy="1014.7" r="4"/><circle cx="1793.9" cy="1011.0" r="4"/><circle cx="1793.0" cy="1001.7" r="4"/><circle cx="1798.8" cy="995.3" r="4"/><circle cx="1804.2" cy="1021.2" r="4"/><circle cx="1798.6" cy="1000.6" r="4"/><circle cx="1837.3" cy="1011.0" r="4"/><circle cx="1798.8" cy="994.8" r="4"/><circle cx="1832.4" cy="997.8" r="4"/><circle cx="1803.8" cy="987.1" r="4"/><circle cx="1791.4" cy="1008.5" r="4"/><circle cx="1800.6" cy="1009.3" r="4"/><circle cx="1808.3" cy="1003.0" r="4"/><circle cx="1843.5" cy="1004.3" r="4"/><circle cx="1820.5" cy="1020.4" r="4"/><circle cx="1797.0" cy="990.5" r="4"/><circle cx="1801.0" cy="992.0" r="4"/><circle cx="1838.9" cy="1009.3" r="4"/><circle cx="1811.3" cy="988.4" r="4"/><circle cx="1800.3" cy="1013.6" r="4"/><circle cx="1801.4" cy="1018.6" r="4"/><circle cx="1821.8" cy="996.3" r="4"/><circle cx="1796.5" cy="1014.3" r="4"/><circle cx="1819.6" cy="1019.8" r="4"/><circle cx="1822.9" cy="995.8" r="4"/><circle cx="1812.7" cy="986.5" r="4"/><circle cx="1796.6" cy="999.5" r="4"/><circle cx="1820.3" cy="989.5" r="4"/><circle cx="1807.7" cy="1021.4" r="4"/><circle cx="1827.5" cy="1008.5" r="4"/><circle cx="1787.3" cy="1010.7" r="4"/><circle cx="1814.9" cy="1014.7" r="4"/><circle cx="1790.5" cy="1006.9" r="4"/><circle cx="1830.2" cy="1021.8" r="4"/><circle cx="1830.2" cy="1013.6" r="4"/><circle cx="1807.1" cy="1012.8" r="4"/><circle cx="1811.0" cy="1017.2" r="4"/><circle cx="1837.8" cy="1008.1" r="4"/><circle cx="1823.5" cy="1000.1" r="4"/><circle cx="1821.0" cy="1009.6" r="4"/><circle cx="1790.8" cy="1010.9" r="4"/><circle cx="1829.7" cy="1000.3" r="4"/><circle cx="1830.1" cy="1008.4" r="4"/><circle cx="1897.0" cy="1004.0" r="4"/><circle cx="1895.7" cy="1010.0" r="4"/><circle cx="1892.2" cy="1014.7" r="4"/><circle cx="1887.3" cy="1016.9" r="4"/><circle cx="1882.1" cy="1016.2" r="4"/><circle cx="1877.8" cy="1012.6" r="4"/><circle cx="1875.3" cy="1007.1" r="4"/><circle cx="1875.3" cy="1000.9" r="4"/><circle cx="1877.8" cy="995.4" r="4"/><circle cx="1882.1" cy="991.8" r="4"/><circle cx="1887.3" cy="991.1" r="4"/><circle cx="1892.2" cy="993.3" r="4"/><circle cx="1895.7" cy="998.0" r="4"/><circle cx="1880.0" cy="993.0" r="4"/><circle cx="1892.0" cy="1016.0" r="4"/><circle cx="1878.0" cy="1012.0" r="4"/></g>
<g fill="#1a5a7a" opacity="0.8"><circle cx="1812" cy="1010" r="2.5"/><circle cx="1826" cy="1008" r="2"/><circle cx="1800" cy="1000" r="1.8"/></g>
<rect x="1583.6" y="1244.3" width="157.6" height="5" fill="#98ccd4"/>
<rect x="1583.6" y="1249.6" width="30.5" height="21.5" rx="2.5" fill="#f2b2c6" stroke="#d890aa" stroke-width="1.2"/>
<rect x="1586.8" y="1253.1" width="24" height="14" rx="2" fill="#f8cad8"/>
<ellipse cx="1593.6" cy="1259.8" rx="6.5" ry="4.6" fill="#54469a"/>
<ellipse cx="1592.6" cy="1261.6" rx="2.5" ry="1.6" fill="#a898e0"/>
<rect x="1615.1" y="1249.6" width="30.5" height="21.5" rx="2.5" fill="#f2b2c6" stroke="#d890aa" stroke-width="1.2"/>
<rect x="1618.3" y="1253.1" width="24" height="14" rx="2" fill="#f8cad8"/>
<ellipse cx="1625.1" cy="1259.8" rx="6.5" ry="4.6" fill="#54469a"/>
<ellipse cx="1624.1" cy="1261.6" rx="2.5" ry="1.6" fill="#a898e0"/>
<rect x="1646.6" y="1249.6" width="30.5" height="21.5" rx="2.5" fill="#f2b2c6" stroke="#d890aa" stroke-width="1.2"/>
<rect x="1649.8" y="1253.1" width="24" height="14" rx="2" fill="#f8cad8"/>
<ellipse cx="1656.6" cy="1259.8" rx="6.5" ry="4.6" fill="#54469a"/>
<ellipse cx="1655.6" cy="1261.6" rx="2.5" ry="1.6" fill="#a898e0"/>
<rect x="1678.1" y="1249.6" width="30.5" height="21.5" rx="2.5" fill="#f2b2c6" stroke="#d890aa" stroke-width="1.2"/>
<rect x="1681.3" y="1253.1" width="24" height="14" rx="2" fill="#f8cad8"/>
<ellipse cx="1688.1" cy="1259.8" rx="6.5" ry="4.6" fill="#54469a"/>
<ellipse cx="1687.1" cy="1261.6" rx="2.5" ry="1.6" fill="#a898e0"/>
<rect x="1709.6" y="1249.6" width="30.5" height="21.5" rx="2.5" fill="#f2b2c6" stroke="#d890aa" stroke-width="1.2"/>
<rect x="1712.8" y="1253.1" width="24" height="14" rx="2" fill="#f8cad8"/>
<ellipse cx="1719.6" cy="1259.8" rx="6.5" ry="4.6" fill="#54469a"/>
<ellipse cx="1718.6" cy="1261.6" rx="2.5" ry="1.6" fill="#a898e0"/>
<rect x="1583.6" y="1321" width="157.6" height="5" fill="#98ccd4"/>
<rect x="1583.6" y="1300.5" width="30.5" height="21.5" rx="2.5" fill="#f2b2c6" stroke="#d890aa" stroke-width="1.2"/>
<rect x="1586.8" y="1304.0" width="24" height="14" rx="2" fill="#f8cad8"/>
<ellipse cx="1593.6" cy="1310.7" rx="6.5" ry="4.6" fill="#54469a"/>
<ellipse cx="1592.6" cy="1312.5" rx="2.5" ry="1.6" fill="#a898e0"/>
<rect x="1615.1" y="1300.5" width="30.5" height="21.5" rx="2.5" fill="#f2b2c6" stroke="#d890aa" stroke-width="1.2"/>
<rect x="1618.3" y="1304.0" width="24" height="14" rx="2" fill="#f8cad8"/>
<ellipse cx="1625.1" cy="1310.7" rx="6.5" ry="4.6" fill="#54469a"/>
<ellipse cx="1624.1" cy="1312.5" rx="2.5" ry="1.6" fill="#a898e0"/>
<rect x="1646.6" y="1300.5" width="30.5" height="21.5" rx="2.5" fill="#f2b2c6" stroke="#d890aa" stroke-width="1.2"/>
<rect x="1649.8" y="1304.0" width="24" height="14" rx="2" fill="#f8cad8"/>
<ellipse cx="1656.6" cy="1310.7" rx="6.5" ry="4.6" fill="#54469a"/>
<ellipse cx="1655.6" cy="1312.5" rx="2.5" ry="1.6" fill="#a898e0"/>
<rect x="1678.1" y="1300.5" width="30.5" height="21.5" rx="2.5" fill="#f2b2c6" stroke="#d890aa" stroke-width="1.2"/>
<rect x="1681.3" y="1304.0" width="24" height="14" rx="2" fill="#f8cad8"/>
<ellipse cx="1688.1" cy="1310.7" rx="6.5" ry="4.6" fill="#54469a"/>
<ellipse cx="1687.1" cy="1312.5" rx="2.5" ry="1.6" fill="#a898e0"/>
<rect x="1709.6" y="1300.5" width="30.5" height="21.5" rx="2.5" fill="#f2b2c6" stroke="#d890aa" stroke-width="1.2"/>
<rect x="1712.8" y="1304.0" width="24" height="14" rx="2" fill="#f8cad8"/>
<ellipse cx="1719.6" cy="1310.7" rx="6.5" ry="4.6" fill="#54469a"/>
<ellipse cx="1718.6" cy="1312.5" rx="2.5" ry="1.6" fill="#a898e0"/>
<path d="M1602.5,1240.0 Q1602.5,1234.0 1609.0,1234.0 Q1615.5,1234.0 1615.5,1240.0 L1615.0,1250.8 Q1612.5,1258.8 1615.0,1266.8 L1615.5,1277.5 Q1615.5,1283.5 1609.0,1283.5 Q1602.5,1283.5 1602.5,1277.5 L1603.0,1266.8 Q1605.5,1258.8 1603.0,1250.8 Z" fill="#eef2ac" stroke="#d4d88e" stroke-width="1"/>
<path d="M1607.0,1239.0 L1607.0,1278.5" stroke="#fbfde0" stroke-width="2" stroke-linecap="round" opacity="0.8"/>
<path d="M1673.9,1229.0 Q1673.9,1223.0 1680.4,1223.0 Q1686.9,1223.0 1686.9,1229.0 L1686.4,1243.5 Q1683.9,1251.5 1686.4,1259.5 L1686.9,1274.0 Q1686.9,1280.0 1680.4,1280.0 Q1673.9,1280.0 1673.9,1274.0 L1674.4,1259.5 Q1676.9,1251.5 1674.4,1243.5 Z" fill="#eef2ac" stroke="#d4d88e" stroke-width="1"/>
<path d="M1678.4,1228.0 L1678.4,1275.0" stroke="#fbfde0" stroke-width="2" stroke-linecap="round" opacity="0.8"/>
<path d="M1635.2,1299.0 Q1635.2,1293.0 1641.7,1293.0 Q1648.2,1293.0 1648.2,1299.0 L1647.7,1313.5 Q1645.2,1321.5 1647.7,1329.5 L1648.2,1344.0 Q1648.2,1350.0 1641.7,1350.0 Q1635.2,1350.0 1635.2,1344.0 L1635.7,1329.5 Q1638.2,1321.5 1635.7,1313.5 Z" fill="#eef2ac" stroke="#d4d88e" stroke-width="1"/>
<path d="M1639.7,1298.0 L1639.7,1345.0" stroke="#fbfde0" stroke-width="2" stroke-linecap="round" opacity="0.8"/>
<path d="M1705.4,1293.0 Q1705.4,1287.0 1711.9,1287.0 Q1718.4,1287.0 1718.4,1293.0 L1717.9,1304.0 Q1715.4,1312.0 1717.9,1320.0 L1718.4,1331.0 Q1718.4,1337.0 1711.9,1337.0 Q1705.4,1337.0 1705.4,1331.0 L1705.9,1320.0 Q1708.4,1312.0 1705.9,1304.0 Z" fill="#eef2ac" stroke="#d4d88e" stroke-width="1"/>
<path d="M1709.9,1292.0 L1709.9,1332.0" stroke="#fbfde0" stroke-width="2" stroke-linecap="round" opacity="0.8"/>
<circle cx="1896.8" cy="1280.4" r="34.6" fill="#62c0ea" stroke="#4596c0" stroke-width="1.6"/>
<text x="1889.6" y="1289.5" font-size="41.5" font-weight="bold" fill="#f4fcff" text-anchor="middle" textLength="28.5" lengthAdjust="spacingAndGlyphs">O</text>
<text x="1912.1" y="1302.6" font-size="22" font-weight="bold" fill="#f4fcff" text-anchor="middle" textLength="13.5" lengthAdjust="spacingAndGlyphs">2</text>
<g>
<path d="M1180,1298 L1221,1299 Q1225,1305 1221,1312 L1180,1312 Z" fill="#d03432"/>
<path d="M1180,1313 L1217,1313 L1218,1321 L1180,1327 Z" fill="#7060b2"/>
<path d="M1178,1324 L1194,1326 C1205,1333 1209,1342 1208.5,1352 L1207.5,1407 L1194,1407 L1194.5,1358 C1194,1348 1188,1342 1178,1338 Z" fill="#c7a652"/>
<path d="M1162.5,1244.4 C1171.3,1243.8 1178.1,1243.4 1183.7,1246.6 C1189.3,1249.8 1189.0,1253.5 1190.5,1260.2 C1192.0,1266.9 1192.0,1273.2 1191.2,1279.9 C1190.4,1286.6 1188.4,1288.4 1186.7,1293.5 C1185.0,1298.6 1183.5,1298.6 1182.9,1305.5 C1182.3,1312.4 1181.7,1320.3 1183.7,1328.2 C1185.7,1336.1 1190.6,1335.7 1192.7,1344.8 C1194.8,1353.9 1195.5,1364.4 1194.3,1373.5 C1193.1,1382.6 1192.4,1384.8 1186.7,1390.2 C1181.0,1395.6 1173.5,1399.5 1165.6,1400.7 C1157.7,1401.9 1155.0,1399.2 1147.4,1396.2 C1139.8,1393.2 1135.0,1392.2 1127.8,1385.6 C1120.6,1379.0 1115.9,1374.5 1111.2,1363.0 C1106.5,1351.5 1105.0,1342.7 1104.4,1328.2 C1103.8,1313.7 1104.9,1302.5 1108.1,1290.4 C1111.3,1278.3 1113.8,1276.0 1120.2,1267.8 C1126.6,1259.6 1131.4,1254.3 1139.9,1249.6 C1148.4,1244.9 1153.7,1245.0 1162.5,1244.4Z" fill="url(#gKid)" stroke="#7a5050" stroke-width="1"/>
<path d="M1150,1275 Q1165,1262 1178,1278 M1130,1320 Q1150,1300 1168,1318 M1140,1360 Q1160,1335 1178,1360" fill="none" stroke="#9a6c6c" stroke-width="3" opacity="0.35"/>
</g>
<g transform="translate(2460.2,0) scale(-1,1)">
<path d="M1180,1298 L1221,1299 Q1225,1305 1221,1312 L1180,1312 Z" fill="#d03432"/>
<path d="M1180,1313 L1217,1313 L1218,1321 L1180,1327 Z" fill="#7060b2"/>
<path d="M1178,1324 L1194,1326 C1205,1333 1209,1342 1208.5,1352 L1207.5,1407 L1194,1407 L1194.5,1358 C1194,1348 1188,1342 1178,1338 Z" fill="#c7a652"/>
<path d="M1162.5,1244.4 C1171.3,1243.8 1178.1,1243.4 1183.7,1246.6 C1189.3,1249.8 1189.0,1253.5 1190.5,1260.2 C1192.0,1266.9 1192.0,1273.2 1191.2,1279.9 C1190.4,1286.6 1188.4,1288.4 1186.7,1293.5 C1185.0,1298.6 1183.5,1298.6 1182.9,1305.5 C1182.3,1312.4 1181.7,1320.3 1183.7,1328.2 C1185.7,1336.1 1190.6,1335.7 1192.7,1344.8 C1194.8,1353.9 1195.5,1364.4 1194.3,1373.5 C1193.1,1382.6 1192.4,1384.8 1186.7,1390.2 C1181.0,1395.6 1173.5,1399.5 1165.6,1400.7 C1157.7,1401.9 1155.0,1399.2 1147.4,1396.2 C1139.8,1393.2 1135.0,1392.2 1127.8,1385.6 C1120.6,1379.0 1115.9,1374.5 1111.2,1363.0 C1106.5,1351.5 1105.0,1342.7 1104.4,1328.2 C1103.8,1313.7 1104.9,1302.5 1108.1,1290.4 C1111.3,1278.3 1113.8,1276.0 1120.2,1267.8 C1126.6,1259.6 1131.4,1254.3 1139.9,1249.6 C1148.4,1244.9 1153.7,1245.0 1162.5,1244.4Z" fill="url(#gKid)" stroke="#7a5050" stroke-width="1"/>
<path d="M1150,1275 Q1165,1262 1178,1278 M1130,1320 Q1150,1300 1168,1318 M1140,1360 Q1160,1335 1178,1360" fill="none" stroke="#9a6c6c" stroke-width="3" opacity="0.35"/>
</g>
<text x="707.6" y="132.3" font-size="27" text-anchor="middle" fill="#2e2e2e" stroke="#2e2e2e" stroke-width="0.25" textLength="51.5" lengthAdjust="spacingAndGlyphs">LPS</text>
<text x="707.6" y="339.8" font-size="27" text-anchor="middle" fill="#2e2e2e" stroke="#2e2e2e" stroke-width="0.25" textLength="131.5" lengthAdjust="spacingAndGlyphs">Renal cells</text>
<text x="354.5" y="444.7" font-size="27" text-anchor="middle" fill="#2e2e2e" stroke="#2e2e2e" stroke-width="0.25" textLength="192.5" lengthAdjust="spacingAndGlyphs">Oxidative stress</text>
<text x="700.5" y="721.9" font-size="27" text-anchor="middle" fill="#2e2e2e" stroke="#2e2e2e" stroke-width="0.25" textLength="312.5" lengthAdjust="spacingAndGlyphs">Pro-inflammatory pathway</text>
<text x="701.0" y="1140.0" font-size="27" text-anchor="middle" fill="#2e2e2e" stroke="#2e2e2e" stroke-width="0.25" textLength="310.5" lengthAdjust="spacingAndGlyphs">Proinflammatory mediator</text>
<text x="706.7" y="1406.2" font-size="27" text-anchor="middle" fill="#2e2e2e" stroke="#2e2e2e" stroke-width="0.25" textLength="160.5" lengthAdjust="spacingAndGlyphs">Renal tubular</text>
<text x="706.1" y="1437.7" font-size="27" text-anchor="middle" fill="#2e2e2e" stroke="#2e2e2e" stroke-width="0.25" textLength="260.1" lengthAdjust="spacingAndGlyphs">epithelial cell damage</text>
<text x="1234.5" y="891.8" font-size="27" text-anchor="middle" fill="#2e2e2e" stroke="#2e2e2e" stroke-width="0.25" textLength="228.3" lengthAdjust="spacingAndGlyphs">Macrovascular and</text>
<text x="1234.5" y="921.3" font-size="27" text-anchor="middle" fill="#2e2e2e" stroke="#2e2e2e" stroke-width="0.25" textLength="309.8" lengthAdjust="spacingAndGlyphs">microvascular dysfunction</text>
<text x="1773.9" y="824.4" font-size="27" text-anchor="middle" fill="#2e2e2e" stroke="#2e2e2e" stroke-width="0.25" textLength="223.7" lengthAdjust="spacingAndGlyphs">Intrarenal shunting</text>
<text x="1775.0" y="1085.2" font-size="27" text-anchor="middle" fill="#2e2e2e" stroke="#2e2e2e" stroke-width="0.25" textLength="155.8" lengthAdjust="spacingAndGlyphs">Microthrombi</text>
<text x="1232.0" y="1145.8" font-size="27" text-anchor="middle" fill="#2e2e2e" stroke="#2e2e2e" stroke-width="0.25" textLength="208.5" lengthAdjust="spacingAndGlyphs">Renal cell edema</text>
<text x="1232.4" y="1437.1" font-size="27" text-anchor="middle" fill="#2e2e2e" stroke="#2e2e2e" stroke-width="0.25" textLength="142.7" lengthAdjust="spacingAndGlyphs">Renal injury</text>
<text x="1661.0" y="1378.8" font-size="27" text-anchor="middle" fill="#2e2e2e" stroke="#2e2e2e" stroke-width="0.25" textLength="190.4" lengthAdjust="spacingAndGlyphs">Endothelial leak</text>
<text x="1892.9" y="1350.3" font-size="27" text-anchor="middle" fill="#2e2e2e" stroke="#2e2e2e" stroke-width="0.25" textLength="201.3" lengthAdjust="spacingAndGlyphs">Kidney prefusion</text>
<text x="1892.9" y="1379.3" font-size="27" text-anchor="middle" fill="#2e2e2e" stroke="#2e2e2e" stroke-width="0.25" textLength="198.9" lengthAdjust="spacingAndGlyphs">and oxygenation</text>
<text x="644.5" y="491.9" font-size="38.0" font-weight="bold" text-anchor="middle" fill="#111" textLength="132.2" lengthAdjust="spacingAndGlyphs">PAMPS</text>
<text x="766.3" y="546.6" font-size="38.0" font-weight="bold" text-anchor="middle" fill="#111" textLength="138.1" lengthAdjust="spacingAndGlyphs">DAMPS</text>
<text x="347.5" y="517.9" font-size="22.0" font-weight="bold" text-anchor="middle" fill="#111" textLength="63.7" lengthAdjust="spacingAndGlyphs">NOX4</text>
<text x="343.5" y="606.0" font-size="22.0" font-weight="bold" text-anchor="middle" fill="#111" textLength="46.5" lengthAdjust="spacingAndGlyphs">Nrf2</text>
<text x="336.4" y="692.7" font-size="22.0" font-weight="bold" text-anchor="middle" fill="#111" textLength="96.7" lengthAdjust="spacingAndGlyphs">PI3K/Akt</text>
<text x="120.2" y="839.0" font-size="21.0" font-weight="bold" text-anchor="middle" fill="#ecfaf2" textLength="60.5" lengthAdjust="spacingAndGlyphs">GPX4</text>
<text x="118.9" y="911.1" font-size="22.5" font-weight="bold" text-anchor="middle" fill="#fff6f0" textLength="100.4" lengthAdjust="spacingAndGlyphs">SLC7A11</text>
<text x="299.4" y="895.6" font-size="22.0" font-weight="bold" text-anchor="middle" fill="#111" textLength="64.0" lengthAdjust="spacingAndGlyphs">SOD1</text>
<text x="401.8" y="895.6" font-size="22.0" font-weight="bold" text-anchor="middle" fill="#111" textLength="50.2" lengthAdjust="spacingAndGlyphs">GSH</text>
<text x="115.8" y="1088.3" font-size="22.0" font-weight="bold" text-anchor="middle" fill="#111" textLength="130.0" lengthAdjust="spacingAndGlyphs">Ferroptosis</text>
<text x="349.9" y="1097.0" font-size="22.0" font-weight="bold" text-anchor="middle" fill="#111" textLength="49.3" lengthAdjust="spacingAndGlyphs">ROS</text>
<text x="781.6" y="781.4" font-size="22.5" font-weight="bold" text-anchor="middle" fill="#111" textLength="77.7" lengthAdjust="spacingAndGlyphs">NLRP3</text>
<text x="639.0" y="832.7" font-size="23.0" font-weight="bold" text-anchor="middle" fill="#111" textLength="136.2" lengthAdjust="spacingAndGlyphs">TLR4/MfD88</text>
<text x="706.2" y="1001.1" font-size="29.0" font-weight="bold" text-anchor="middle" fill="#111" textLength="102.5" lengthAdjust="spacingAndGlyphs">NF-<tspan font-style="italic">&#954;</tspan>B</text>
<text x="638.3" y="1214.1" font-size="26.0" font-weight="bold" text-anchor="middle" fill="#fff" textLength="71.9" lengthAdjust="spacingAndGlyphs">TNF&#945;</text>
<text x="773.9" y="1214.1" font-size="26.0" font-weight="bold" text-anchor="middle" fill="#fff" textLength="63.5" lengthAdjust="spacingAndGlyphs">IL-6</text>
</svg>
</body></html>
